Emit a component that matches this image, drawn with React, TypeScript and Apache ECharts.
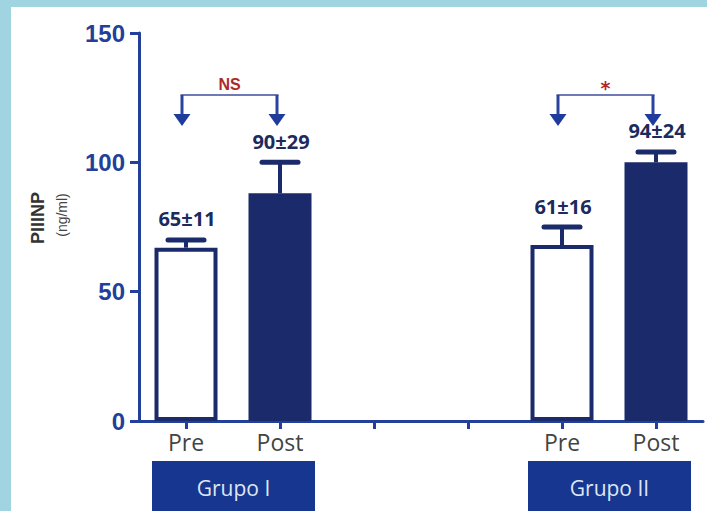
import React, { useEffect, useRef } from "react";
import * as echarts from "echarts";

const categories = ["Pre", "Post", "", "", "Pre", "Post"];
const means: (number | null)[] = [67, 88, null, null, 68, 100];
const errTops: (number | null)[] = [70, 100, null, null, 75, 104];
const valueLabels = ["65±11", "90±29", "", "", "61±16", "94±24"];
const filled = [false, true, false, false, false, true];
const groupNames = ["Grupo I", "Grupo II"];
const groupSpans: [number, number][] = [[0, 1], [4, 5]];
const comparisonPairs: [number, number][] = [[0, 1], [4, 5]];
const comparisonTexts = ["NS", "*"];
const bracketLevel = 126;
const arrowTipLevel = 114;
const yTicks = { min: 0, max: 150, interval: 50 };

const NAVY = "#1b2a6b";
const AXIS = "#22409a";
const BOX = "#17368f";

export default function App() {
  const ref = useRef<HTMLDivElement>(null);
  useEffect(() => {
    if (!ref.current) return;
    document.body.style.margin = "0";
    const chart = echarts.init(ref.current, undefined, { renderer: "svg" });

    const barData = means.map((m, i) =>
      m == null
        ? "-"
        : {
            value: m,
            itemStyle: filled[i]
              ? { color: NAVY, borderColor: NAVY, borderWidth: 0 }
              : { color: "#ffffff", borderColor: NAVY, borderWidth: 4 },
          }
    );

    const errData = means
      .map((m, i) => (m == null ? null : [i, m, errTops[i]]))
      .filter((d) => d != null) as number[][];

    chart.setOption({
      animation: false,
      backgroundColor: "#9fd4e0",
      graphic: [
        {
          type: "rect",
          shape: { x: 11, y: 7, width: 700, height: 510 },
          style: { fill: "#ffffff" },
          z: -10,
          silent: true,
        },
        {
          type: "text",
          x: 38,
          y: 218,
          rotation: Math.PI / 2,
          style: {
            text: "PIIINP",
            fill: "#333333",
            fontSize: 18,
            fontWeight: "bold",
            fontFamily: "'Liberation Sans', Arial, sans-serif",
            align: "center",
            verticalAlign: "middle",
          },
        },
        {
          type: "text",
          x: 62,
          y: 215,
          rotation: Math.PI / 2,
          style: {
            text: "(ng/ml)",
            fill: "#444444",
            fontSize: 14,
            fontFamily: "'Liberation Sans', Arial, sans-serif",
            align: "center",
            verticalAlign: "middle",
          },
        },
      ],
      grid: {
        left: 139,
        right: 4,
        top: 33,
        bottom: 90,
        outerBoundsMode: "none",
      },
      xAxis: {
        type: "category",
        data: categories,
        boundaryGap: true,
        axisLine: { show: true, lineStyle: { color: AXIS, width: 3 } },
        axisTick: {
          show: true,
          alignWithLabel: true,
          length: 8,
          lineStyle: { color: AXIS, width: 3 },
        },
        axisLabel: {
          interval: 0,
          color: "#444444",
          fontSize: 23,
          fontFamily: "'Open Sans', sans-serif",
          margin: 9,
        },
        splitLine: { show: false },
      },
      yAxis: {
        type: "value",
        min: yTicks.min,
        max: yTicks.max,
        interval: yTicks.interval,
        axisLine: { show: true, lineStyle: { color: AXIS, width: 3 } },
        axisTick: { show: true, length: 9, lineStyle: { color: AXIS, width: 3 } },
        axisLabel: {
          color: AXIS,
          fontSize: 24,
          fontWeight: "bold",
          fontFamily: "'Liberation Sans', Arial, sans-serif",
          margin: 14,
        },
        splitLine: { show: false },
      },
      series: [
        {
          type: "bar",
          data: barData,
          barWidth: 63,
          z: 2,
        },
        {
          type: "custom",
          data: errData,
          z: 3,
          renderItem: (params: any, api: any) => {
            const idx = api.value(0);
            const top = api.coord([idx, api.value(1)]);
            const cap = api.coord([idx, api.value(2)]);
            const x = top[0];
            return {
              type: "group",
              children: [
                {
                  type: "line",
                  shape: { x1: x, y1: top[1], x2: x, y2: cap[1] },
                  style: { stroke: NAVY, lineWidth: 4 },
                },
                {
                  type: "line",
                  shape: { x1: x - 18, y1: cap[1], x2: x + 18, y2: cap[1] },
                  style: { stroke: NAVY, lineWidth: 5, lineCap: "round" },
                },
                {
                  type: "text",
                  x: x + 1,
                  y: cap[1] - 21,
                  style: {
                    text: valueLabels[idx],
                    fill: "#1c2a5e",
                    fontSize: 20,
                    fontWeight: "bold",
                    fontFamily: "'Open Sans', sans-serif",
                    align: "center",
                    verticalAlign: "middle",
                  },
                },
              ],
            };
          },
        },
        {
          type: "custom",
          data: comparisonPairs.map((p) => [p[0], bracketLevel]),
          z: 4,
          renderItem: (params: any, api: any) => {
            const pair = comparisonPairs[params.dataIndex];
            const p1 = api.coord([pair[0], bracketLevel]);
            const p2 = api.coord([pair[1], bracketLevel]);
            const tip = api.coord([pair[0], arrowTipLevel]);
            const x1 = p1[0] - 4;
            const x2 = p2[0] - 3;
            const y = p1[1];
            const yt = tip[1];
            const arrow = (x: number) => [
              {
                type: "line",
                shape: { x1: x, y1: y, x2: x, y2: yt - 10 },
                style: { stroke: "#2a43a0", lineWidth: 3 },
              },
              {
                type: "polygon",
                shape: { points: [[x - 8.5, yt - 12], [x + 8.5, yt - 12], [x, yt]] },
                style: { fill: "#1f3c9c" },
              },
            ];
            const txt = comparisonTexts[params.dataIndex];
            const isStar = txt === "*";
            return {
              type: "group",
              children: [
                {
                  type: "line",
                  shape: { x1: x1 - 1.5, y1: y, x2: x2 + 1.5, y2: y },
                  style: { stroke: "#6d7ab6", lineWidth: 2 },
                },
                ...arrow(x1),
                ...arrow(x2),
                {
                  type: "text",
                  x: (x1 + x2) / 2,
                  y: isStar ? y - 7 : y - 11,
                  style: {
                    text: txt,
                    fill: "#b0282a",
                    fontSize: isStar ? 19 : 16,
                    fontWeight: "bold",
                    fontFamily: isStar
                      ? "'DejaVu Sans', sans-serif"
                      : "'Liberation Sans Narrow', 'Liberation Sans', sans-serif",
                    align: "center",
                    verticalAlign: "middle",
                  },
                },
              ],
            };
          },
        },
        {
          type: "custom",
          data: groupSpans.map((g) => [g[0], 0]),
          z: 5,
          renderItem: (params: any, api: any) => {
            const span = groupSpans[params.dataIndex];
            const a = api.coord([span[0], 0]);
            const b = api.coord([span[1], 0]);
            const left = a[0] - 34;
            const right = b[0] + 35;
            const top = a[1] + 40;
            return {
              type: "group",
              children: [
                {
                  type: "rect",
                  shape: { x: left, y: top, width: right - left, height: 60 },
                  style: { fill: BOX },
                },
                {
                  type: "text",
                  x: (left + right) / 2,
                  y: top + 27,
                  style: {
                    text: groupNames[params.dataIndex],
                    fill: "#dfe6f4",
                    fontSize: 21,
                    fontFamily: "'Open Sans', sans-serif",
                    align: "center",
                    verticalAlign: "middle",
                  },
                },
              ],
            };
          },
        },
      ],
    });
    return () => chart.dispose();
  }, []);
  return (
    <div
      ref={ref}
      style={{ position: "absolute", left: 0, top: 0, width: 707, height: 511 }}
    />
  );
}
